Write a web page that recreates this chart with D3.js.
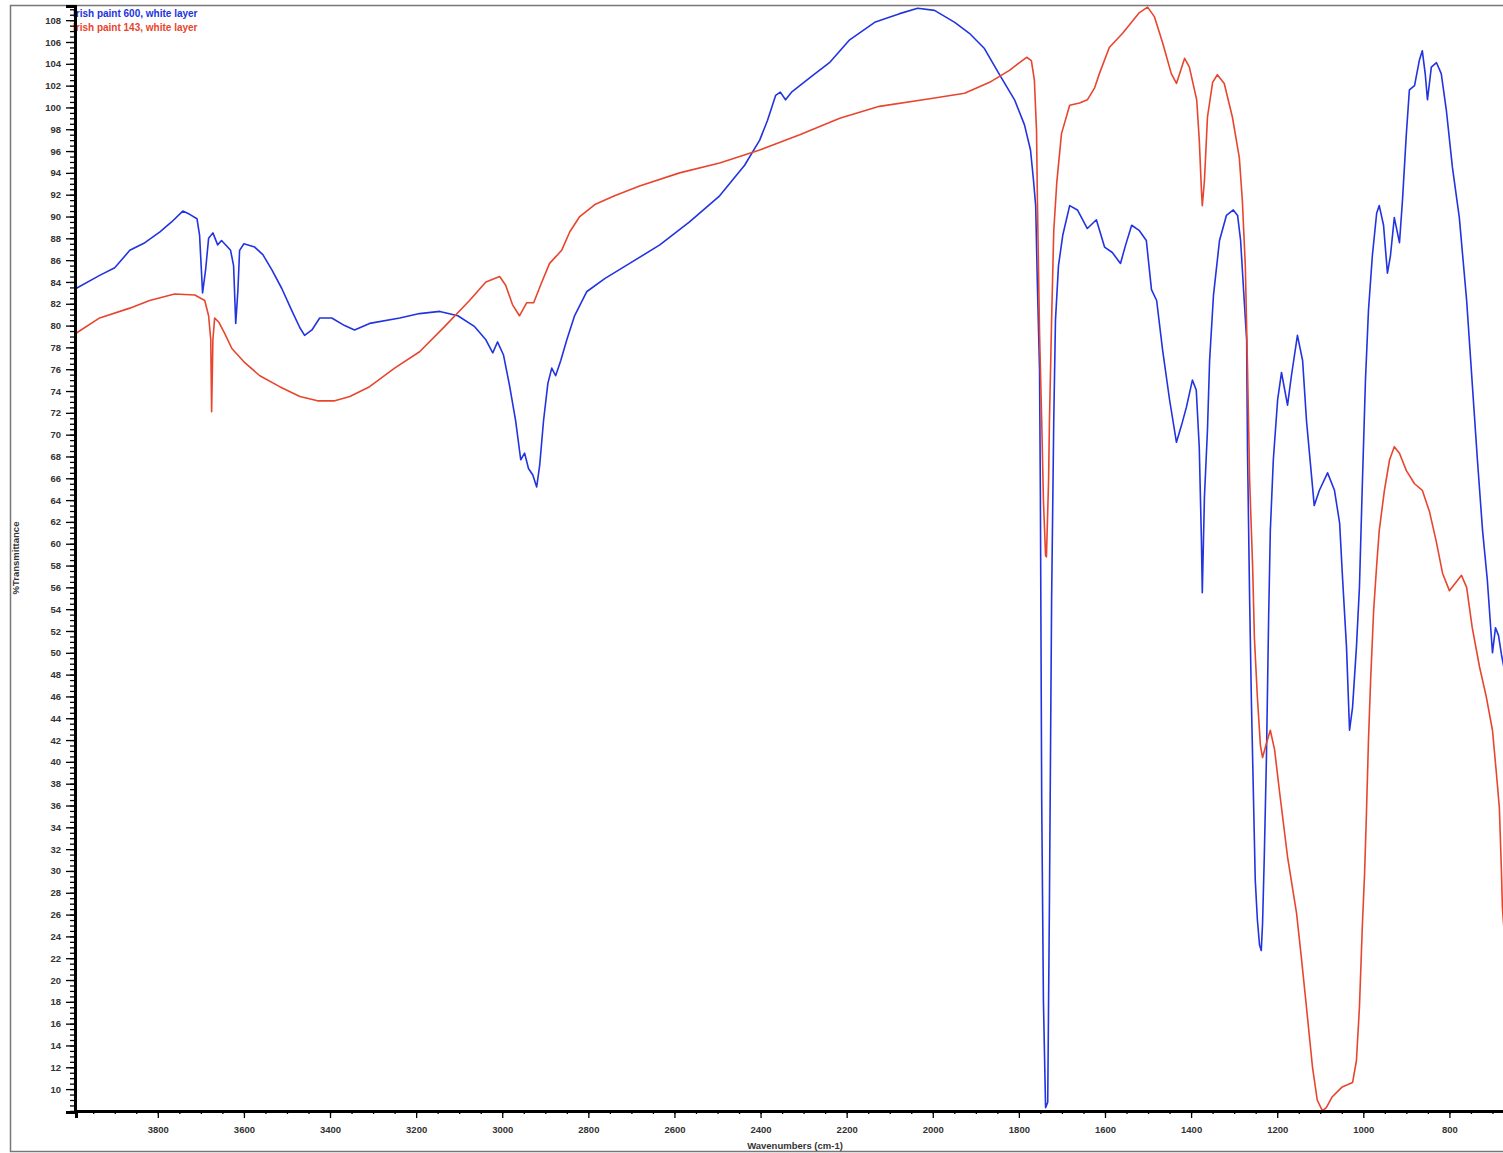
<!DOCTYPE html>
<html>
<head>
<meta charset="utf-8">
<script src="https://cdn.jsdelivr.net/npm/d3@7"></script>
<style>
  body { margin: 0; background: #fff; }
  .tick-label { font-family: "Liberation Sans", Arial, sans-serif; font-size: 9.5px; font-weight: bold; fill: #333; }
  .legend { font-family: "Liberation Sans", Arial, sans-serif; font-size: 10px; font-weight: bold; }
</style>
</head>
<body>
<svg class="chart"></svg>
<script>
var width = 1503,
  height = 1153,
  margin = { top: 6, left: 76, bottom: 1112, right: 1514 };

var seriesNames = ["Irish paint 600, white layer", "Irish paint 143, white layer"];
var seriesColours = ["#2233e0", "#e8452e"];

// blue spectrum (paint 600): wavenumber cm-1 / %T
var blueWavenumber = [3990, 3935, 3900, 3865, 3830, 3795, 3768, 3742, 3726, 3709, 3703, 3696, 3689, 3682, 3672, 3661, 3652, 3640, 3631, 3624,
  3619, 3614, 3610, 3600, 3575, 3556, 3535, 3512, 3489, 3470, 3459, 3442, 3424, 3396, 3366, 3343, 3308, 3238, 3192, 3145,
  3103, 3064, 3038, 3022, 3011, 2997, 2983, 2969, 2957, 2948, 2939, 2929, 2920, 2913, 2904, 2894, 2885, 2876, 2864, 2850,
  2832, 2804, 2762, 2704, 2634, 2565, 2495, 2437, 2402, 2384, 2365, 2354, 2342, 2328, 2286, 2240, 2193, 2135, 2077, 2035,
  1996, 1949, 1915, 1880, 1845, 1810, 1787, 1773, 1766, 1761, 1757, 1752, 1750, 1747, 1743, 1738, 1733, 1729, 1724, 1719,
  1715, 1708, 1698, 1682, 1664, 1641, 1620, 1601, 1583, 1564, 1552, 1538, 1520, 1504, 1492, 1480, 1466, 1450, 1434, 1422,
  1411, 1397, 1388, 1381, 1376, 1374, 1369, 1362, 1357, 1348, 1334, 1318, 1302, 1292, 1285, 1278, 1271, 1269, 1264, 1260,
  1255, 1251, 1246, 1241, 1237, 1234, 1230, 1225, 1220, 1216, 1209, 1199, 1190, 1176, 1167, 1153, 1141, 1132, 1120, 1114,
  1102, 1083, 1067, 1055, 1048, 1039, 1032, 1025, 1016, 1009, 1002, 995, 988, 979, 969, 963, 953, 944, 937, 928,
  916, 909, 900, 893, 881, 870, 863, 856, 851, 842, 830, 819, 807, 793, 777, 760, 747, 735, 723, 712,
  700, 693, 686, 679, 670];
var blueTransmittance = [83.4, 84.6, 85.3, 86.9, 87.6, 88.6, 89.5, 90.5, 90.2, 89.8, 88.3, 83.0, 85.1, 88.0, 88.5, 87.4, 87.8, 87.3, 86.9, 85.5,
  80.2, 83.2, 86.9, 87.5, 87.2, 86.5, 85.1, 83.4, 81.4, 79.8, 79.1, 79.6, 80.7, 80.7, 80.0, 79.6, 80.2, 80.7, 81.1, 81.3,
  80.9, 79.9, 78.7, 77.5, 78.5, 77.3, 74.5, 71.3, 67.7, 68.3, 66.9, 66.3, 65.2, 67.2, 71.3, 74.7, 76.1, 75.4, 76.8, 78.7,
  80.9, 83.1, 84.3, 85.7, 87.4, 89.5, 91.9, 94.7, 97.0, 98.8, 101.1, 101.4, 100.7, 101.4, 102.7, 104.1, 106.2, 107.8, 108.6, 109.1,
  108.9, 107.8, 106.8, 105.4, 103.0, 100.7, 98.4, 96.1, 93.3, 91.0, 83.7, 75.9, 64.0, 36.5, 18.1, 8.3, 8.8, 27.3, 54.8, 71.3,
  80.5, 85.5, 88.3, 91.0, 90.6, 88.9, 89.7, 87.2, 86.7, 85.7, 87.4, 89.2, 88.7, 87.8, 83.3, 82.3, 77.7, 73.2, 69.3, 70.9,
  72.5, 75.0, 74.1, 68.8, 60.3, 55.5, 64.3, 70.4, 76.8, 82.8, 87.8, 90.1, 90.6, 90.1, 87.8, 83.2, 78.7, 68.6, 54.8, 45.7,
  36.5, 29.2, 25.5, 23.2, 22.7, 25.2, 31.3, 40.4, 53.0, 61.2, 67.7, 73.2, 75.7, 72.7, 75.4, 79.1, 76.8, 71.3, 66.1, 63.5,
  64.9, 66.5, 64.9, 61.9, 56.7, 50.5, 42.9, 45.0, 50.5, 56.0, 65.8, 75.0, 81.4, 86.4, 90.3, 91.0, 89.2, 84.8, 86.4, 89.9,
  87.6, 91.5, 97.6, 101.6, 102.0, 104.3, 105.2, 103.0, 100.7, 103.7, 104.1, 103.1, 99.7, 94.5, 89.9, 82.3, 74.7, 67.7, 61.2, 56.7,
  50.0, 52.3, 51.6, 49.8, 48.0];

// red spectrum (paint 143): wavenumber cm-1 / %T
var redWavenumber = [3990, 3935, 3865, 3819, 3761, 3714, 3691, 3682, 3677, 3675, 3672, 3668, 3658, 3645, 3628, 3598, 3563, 3517, 3470, 3429,
  3389, 3354, 3308, 3250, 3192, 3134, 3076, 3038, 3006, 2992, 2976, 2960, 2943, 2927, 2908, 2890, 2876, 2862, 2843, 2820,
  2785, 2739, 2681, 2588, 2495, 2402, 2309, 2216, 2124, 2007, 1926, 1868, 1822, 1782, 1771, 1764, 1759, 1757, 1752, 1747,
  1743, 1738, 1736, 1731, 1729, 1724, 1719, 1712, 1701, 1682, 1659, 1641, 1624, 1613, 1590, 1559, 1520, 1501, 1485, 1466,
  1446, 1434, 1415, 1404, 1387, 1381, 1376, 1374, 1369, 1362, 1350, 1339, 1323, 1304, 1288, 1281, 1274, 1269, 1264, 1257,
  1253, 1246, 1239, 1234, 1225, 1216, 1206, 1195, 1176, 1155, 1144, 1132, 1118, 1107, 1095, 1086, 1072, 1049, 1025, 1016,
  1009, 1002, 997, 993, 988, 983, 976, 969, 963, 951, 939, 928, 916, 900, 881, 863, 846, 830, 816, 800,
  786, 772, 760, 747, 730, 714, 700, 691, 684, 679, 677, 665];
var redTransmittance = [79.3, 80.7, 81.6, 82.3, 82.9, 82.8, 82.3, 80.9, 78.7, 72.1, 78.7, 80.7, 80.3, 79.3, 77.9, 76.6, 75.4, 74.4, 73.5, 73.1,
  73.1, 73.5, 74.4, 76.1, 77.6, 79.9, 82.3, 84.0, 84.5, 83.7, 81.9, 80.9, 82.1, 82.1, 84.0, 85.7, 86.3, 86.9, 88.6, 90.0,
  91.1, 91.9, 92.8, 94.0, 94.9, 96.1, 97.5, 99.0, 100.1, 100.8, 101.3, 102.3, 103.4, 104.6, 104.3, 102.5, 97.9, 91.5, 79.3, 71.3,
  64.0, 58.9, 58.8, 65.8, 71.3, 80.5, 88.7, 93.1, 97.6, 100.2, 100.4, 100.7, 101.8, 103.1, 105.5, 106.8, 108.7, 109.2, 108.3, 105.9,
  103.1, 102.2, 104.5, 103.7, 100.7, 97.0, 92.4, 91.0, 93.3, 99.1, 102.3, 103.0, 102.2, 99.1, 95.4, 91.5, 85.4, 76.2, 65.8, 57.8,
  51.4, 45.9, 41.5, 40.4, 41.7, 42.9, 41.1, 37.4, 31.3, 26.1, 22.1, 17.5, 12.0, 9.0, 8.0, 8.3, 9.3, 10.2, 10.6, 12.6,
  17.5, 25.2, 29.8, 34.9, 42.0, 47.5, 53.9, 58.0, 61.2, 64.9, 67.7, 68.9, 68.3, 66.7, 65.5, 64.9, 62.9, 60.1, 57.3, 55.7,
  56.4, 57.1, 56.0, 52.3, 48.7, 45.9, 42.9, 39.0, 35.8, 29.8, 26.7, 20.0];

var yMajorTicks = d3.range(10, 109, 2);
var xMajorTicks = [3800, 3600, 3400, 3200, 3000, 2800, 2600, 2400, 2200, 2000, 1800, 1600, 1400, 1200, 1000, 800];

var chart = d3.select(".chart")
  .attr("width", width)
  .attr("height", height);

chart.append("rect")
  .attr("width", width)
  .attr("height", height)
  .attr("fill", "#fff");

// outer frame
chart.append("rect")
  .attr("x", 10.5)
  .attr("y", 5.5)
  .attr("width", 1530)
  .attr("height", 1146)
  .attr("fill", "none")
  .attr("stroke", "#777")
  .attr("stroke-width", 1.5);

var x = d3.scaleLinear()
  .domain([3990, 650])
  .range([margin.left, margin.right]);

var y = d3.scaleLinear()
  .domain([7.9, 109.3])
  .range([margin.bottom, margin.top]);

function toPoints(wn, tr) {
  return wn.map(function(d, i) { return [d, tr[i]]; });
}

var series = [
  toPoints(blueWavenumber, blueTransmittance),
  toPoints(redWavenumber, redTransmittance)
];

var line = d3.line()
  .x(function(d) { return x(d[0]); })
  .y(function(d) { return y(d[1]); });

// legend first, so the axis covers the first letter like the original
chart.selectAll(".legend")
  .data(seriesNames)
  .enter().append("text")
  .attr("class", "legend")
  .attr("x", 73)
  .attr("y", function(d, i) { return 17 + i * 14; })
  .attr("fill", function(d, i) { return seriesColours[i]; })
  .text(function(d) { return d; });

chart.selectAll(".spectrum")
  .data(series)
  .enter().append("path")
  .attr("class", "spectrum")
  .attr("d", line)
  .attr("fill", "none")
  .attr("stroke", function(d, i) { return seriesColours[i]; })
  .attr("stroke-width", 1.6)
  .attr("stroke-linejoin", "round");

// y axis
var yAxis = chart.append("g")
  .attr("transform", "translate(" + (margin.left - 1) + ",0)")
  .call(d3.axisLeft(y).tickValues(d3.range(8, 109.1, 0.5)).tickSize(5).tickFormat(""));
yAxis.append("g")
  .call(d3.axisLeft(y).tickValues(yMajorTicks).tickSize(9).tickPadding(5).tickFormat(d3.format("d")));
yAxis.selectAll("line").attr("stroke", "#000").attr("stroke-width", 1.3);
yAxis.selectAll(".domain").attr("stroke", "#000").attr("stroke-width", 3);
yAxis.selectAll("text").attr("class", "tick-label").attr("font-family", null).attr("font-size", null).attr("fill", null);

// x axis
var xAxis = chart.append("g")
  .attr("transform", "translate(0," + (margin.bottom - 1) + ")")
  .call(d3.axisBottom(x).tickValues(d3.range(700, 3951, 50)).tickSize(3).tickFormat(""));
xAxis.append("g")
  .call(d3.axisBottom(x).tickValues(xMajorTicks).tickSize(7).tickPadding(8).tickFormat(d3.format("d")));
xAxis.selectAll("line").attr("stroke", "#000").attr("stroke-width", 1.3);
xAxis.selectAll(".domain").attr("stroke", "#000").attr("stroke-width", 3);
xAxis.selectAll("text").attr("class", "tick-label").attr("font-family", null).attr("font-size", null).attr("fill", null);

chart.append("text")
  .attr("class", "tick-label")
  .attr("x", 795)
  .attr("y", 1149)
  .attr("text-anchor", "middle")
  .text("Wavenumbers (cm-1)");

chart.append("text")
  .attr("class", "tick-label")
  .attr("transform", "translate(19,558) rotate(-90)")
  .attr("text-anchor", "middle")
  .text("%Transmittance");
</script>
</body>
</html>
